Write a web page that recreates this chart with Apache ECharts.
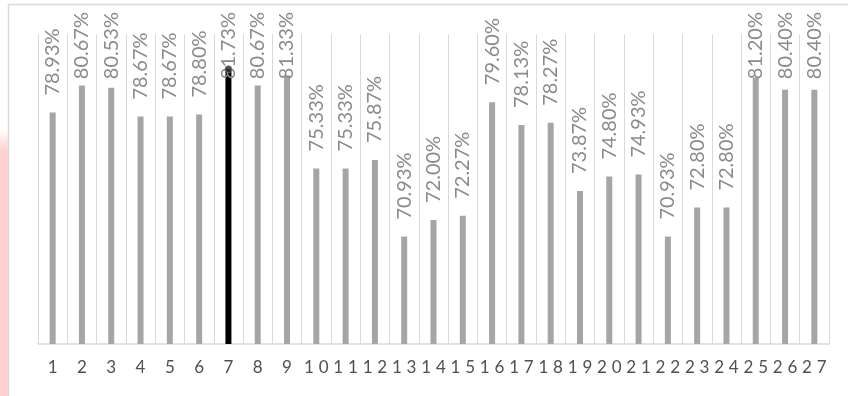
<!DOCTYPE html>
<html>
<head>
<meta charset="utf-8">
<script src="https://cdn.jsdelivr.net/npm/echarts@6/dist/echarts.min.js"></script>
<style>html,body{margin:0;padding:0;background:#fff;}#c{width:848px;height:396px;}</style>
</head>
<body>
<div id="c"></div>
<script>
const categories = ['1','2','3','4','5','6','7','8','9','10','11','12','13','14','15','16','17','18','19','20','21','22','23','24','25','26','27'];
const values = [78.93, 80.67, 80.53, 78.67, 78.67, 78.80, 81.73, 80.67, 81.33, 75.33, 75.33, 75.87, 70.93, 72.00, 72.27, 79.60, 78.13, 78.27, 73.87, 74.80, 74.93, 70.93, 72.80, 72.80, 81.20, 80.40, 80.40];
const highlightCategory = '7';
const yMin = 64, yMax = 84;

const chart = echarts.init(document.getElementById('c'), null, {renderer: 'canvas'});
const hi = categories.indexOf(highlightCategory);
const option = {
  animation: false,
  backgroundColor: '#fff',
  graphic: [
    {type: 'rect', silent: true, shape: {x: 0, y: 130, width: 8, height: 266},
     style: {fill: new echarts.graphic.LinearGradient(0, 0, 0, 1, [
       {offset: 0, color: 'rgba(255,208,208,0)'},
       {offset: 0.08, color: '#ffd0d0'},
       {offset: 1, color: '#ffd0d0'}])}},
    {type: 'rect', silent: true, shape: {x: 8.5, y: 4.5, width: 900, height: 500},
     style: {fill: null, stroke: '#d9d9d9', lineWidth: 1.5}}
  ],
  grid: {left: 38, right: 19, top: 34, bottom: 52},
  xAxis: {
    type: 'category',
    data: categories,
    boundaryGap: true,
    axisTick: {show: false},
    axisLine: {lineStyle: {color: '#d9d9d9', width: 1.5}},
    splitLine: {show: true, interval: 0, lineStyle: {color: '#d9d9d9', width: 1}},
    axisLabel: {
      interval: 0,
      margin: 14,
      formatter: v => String(v).split('').map(c => '{d|' + c + '}').join(''),
      rich: {d: {width: 14.65, align: 'center', fontFamily: 'Lato', fontSize: 17, color: '#505050', lineHeight: 20}}
    }
  },
  yAxis: {
    type: 'value', min: yMin, max: yMax, show: false,
    splitLine: {show: false}
  },
  series: [
    {
      type: 'bar',
      data: values,
      barWidth: 6,
      itemStyle: {color: p => p.dataIndex === hi ? '#000000' : '#a5a5a5'},
      label: {
        show: true,
        position: 'top',
        rotate: 90,
        align: 'left',
        verticalAlign: 'middle',
        fontFamily: 'Lato',
        fontSize: 20,
        color: '#8a8a8a',
        formatter: p => p.value.toFixed(2) + '%'
      },
      labelLayout: function (params) {
        const r = params.rect, lr = params.labelRect;
        const len = lr.height;
        const y = Math.max(r.y - 17, 12 + len);
        return {x: r.x + r.width / 2, y: y, align: 'left', verticalAlign: 'middle', rotate: 90};
      },
      z: 2
    },
    {
      type: 'scatter',
      data: categories.map((c, i) => i === hi ? values[i] : null),
      symbol: 'circle',
      symbolSize: 7,
      itemStyle: {color: '#222222', borderColor: '#7f7f7f', borderWidth: 1},
      z: 3
    }
  ]
};
chart.setOption(option);
</script>
</body>
</html>
